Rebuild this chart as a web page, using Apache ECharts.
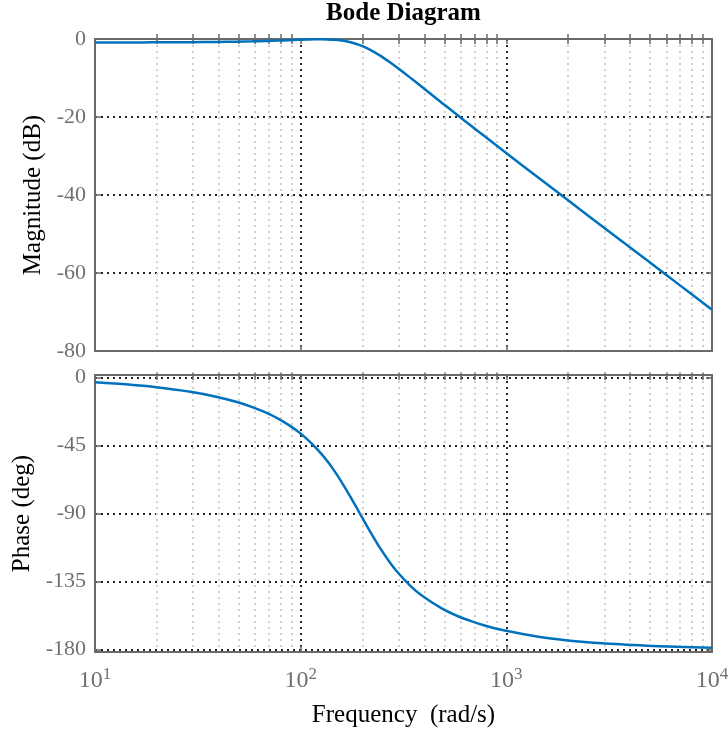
<!DOCTYPE html>
<html>
<head>
<meta charset="utf-8">
<script src="https://cdn.jsdelivr.net/npm/echarts@6/dist/echarts.min.js"></script>
<style>
  html, body { margin: 0; padding: 0; background: #ffffff; }
  #chart { width: 728px; height: 732px; }
</style>
</head>
<body>
<div id="chart"></div>
<script>
// Frequency samples (rad/s) and the response
const freq = [10, 14.5, 19.4, 29.1, 38.8, 48.5, 58.2, 67.9, 77.6, 87.3, 97, 106.7, 116.4, 126.1, 135.8, 145.5, 155.2, 174.6, 194, 213.4, 242.5, 271.6, 291, 339.5, 388, 485, 582, 679, 776, 970, 1455, 1940, 2910, 4850, 6790, 10000];
const magnitudeDb = [-0.89, -0.88, -0.86, -0.82, -0.76, -0.69, -0.60, -0.50, -0.41, -0.31, -0.22, -0.14, -0.09, -0.07, -0.10, -0.18, -0.33, -0.82, -1.57, -2.53, -4.20, -5.96, -7.12, -9.84, -12.26, -16.32, -19.62, -22.39, -24.77, -28.72, -35.84, -40.86, -47.93, -56.81, -62.66, -69.4];
const phaseDeg = [-3.2, -4.66, -6.23, -9.41, -12.68, -16.07, -19.60, -23.30, -27.22, -31.36, -35.75, -40.42, -45.36, -50.55, -55.99, -61.63, -67.38, -78.94, -90.0, -100.0, -112.6, -122.4, -127.7, -137.5, -144.3, -152.8, -158.0, -161.4, -163.9, -167.3, -171.7, -173.8, -175.9, -177.5, -178.2, -178.8];

// Tick positions
const decadeTicks = [10, 100, 1000, 10000];
const minorTicks = [20, 30, 40, 50, 60, 70, 80, 90, 200, 300, 400, 500, 600, 700, 800, 900, 2000, 3000, 4000, 5000, 6000, 7000, 8000, 9000];
const allFreqTicks = decadeTicks.concat(minorTicks);
const magTicks = [-80, -60, -40, -20, 0];
const phaseTicks = [-180, -135, -90, -45, 0];

// Axis limits
const freqRange = [10, 10000];
const magRange = [-80, 0];
const phaseRange = [-181.65, 1.65];

const FONT = "'Liberation Serif', 'Times New Roman', serif";
const FRAME = '#6a6a6a';
const LABEL_GRAY = '#707070';
const LINE_BLUE = '#0072BD';

const pairs = (xs, ys) => xs.map((x, i) => [x, ys[i]]);

const majorGrid = { show: true, lineStyle: { color: '#262626', width: 2, type: [2, 4], cap: 'butt' } };
const minorGrid = { show: true, lineStyle: { color: '#cfcfcf', width: 2, type: [2, 4], cap: 'butt' } };
const frameLine = { show: true, onZero: false, lineStyle: { color: FRAME, width: 2 } };

function freqAxes(gridIndex, withLabels) {
  const base = { type: 'log', logBase: 10, gridIndex, min: freqRange[0], max: freqRange[1] };
  return [
    // minor decades: light dotted grid + short inner ticks
    Object.assign({}, base, {
      position: 'bottom',
      axisLine: { show: false },
      axisTick: { show: true, inside: true, length: 5, customValues: minorTicks, lineStyle: { color: FRAME, width: 1.5 } },
      axisLabel: { show: false },
      splitLine: minorGrid
    }),
    // decades: dark dotted grid, frame edge, labels
    Object.assign({}, base, {
      position: 'bottom',
      axisLine: frameLine,
      axisTick: { show: true, inside: true, length: 6, customValues: decadeTicks, lineStyle: { color: FRAME, width: 1.5 } },
      axisLabel: withLabels ? {
        show: true,
        customValues: decadeTicks,
        margin: 17,
        formatter: v => '{b|10}{e|' + Math.round(Math.log10(v)) + '}',
        rich: {
          b: { fontFamily: FONT, fontSize: 24, lineHeight: 24, color: LABEL_GRAY, verticalAlign: 'bottom' },
          e: { fontFamily: FONT, fontSize: 17, lineHeight: 17, color: LABEL_GRAY, verticalAlign: 'bottom', padding: [0, 0, 10, 0] }
        }
      } : { show: false },
      splitLine: majorGrid,
      name: withLabels ? 'Frequency  (rad/s)' : '',
      nameLocation: 'middle',
      nameGap: 51,
      nameTextStyle: { fontFamily: FONT, fontSize: 25, color: '#000' }
    }),
    // top edge of the frame
    Object.assign({}, base, {
      position: 'top',
      axisLine: frameLine,
      axisTick: { show: true, inside: true, length: 5, customValues: allFreqTicks, lineStyle: { color: FRAME, width: 1.5 } },
      axisLabel: { show: false },
      splitLine: { show: false }
    })
  ];
}

function valueAxes(gridIndex, range, ticks, name, nameGap) {
  return [
    {
      type: 'value', gridIndex, position: 'left', min: range[0], max: range[1],
      axisLine: frameLine,
      axisTick: { show: true, inside: true, length: 6, customValues: ticks, lineStyle: { color: FRAME, width: 1.5 } },
      axisLabel: { show: true, customValues: ticks, margin: 9, fontFamily: FONT, fontSize: 22, color: LABEL_GRAY },
      splitLine: majorGrid,
      name, nameLocation: 'middle', nameGap,
      nameTextStyle: { fontFamily: FONT, fontSize: 25, color: '#000' }
    },
    {
      type: 'value', gridIndex, position: 'right', min: range[0], max: range[1],
      axisLine: frameLine,
      axisTick: { show: true, inside: true, length: 6, customValues: ticks, lineStyle: { color: FRAME, width: 1.5 } },
      axisLabel: { show: false },
      splitLine: { show: false }
    }
  ];
}

const chart = echarts.init(document.getElementById('chart'), null, { renderer: 'canvas' });

chart.setOption({
  animation: false,
  backgroundColor: '#ffffff',
  graphic: [{
    type: 'text', x: 403.5, y: 14,
    style: { text: 'Bode Diagram', fontFamily: FONT, fontSize: 25, fontWeight: 'bold', fill: '#000', textAlign: 'center', textVerticalAlign: 'middle' }
  }],
  grid: [
    { left: 95, top: 39, width: 617, height: 312, containLabel: false, outerBoundsMode: 'none' },
    { left: 95, top: 375, width: 617, height: 277, containLabel: false, outerBoundsMode: 'none' }
  ],
  xAxis: freqAxes(0, false).concat(freqAxes(1, true)),
  yAxis: valueAxes(0, magRange, magTicks, 'Magnitude (dB)', 48)
    .concat(valueAxes(1, phaseRange, phaseTicks, 'Phase (deg)', 59)),
  series: [
    {
      type: 'line', xAxisIndex: 1, yAxisIndex: 0,
      data: pairs(freq, magnitudeDb),
      showSymbol: false, smooth: 0.3,
      lineStyle: { color: LINE_BLUE, width: 2.5 }
    },
    {
      type: 'line', xAxisIndex: 4, yAxisIndex: 2,
      data: pairs(freq, phaseDeg),
      showSymbol: false, smooth: 0.3,
      lineStyle: { color: LINE_BLUE, width: 2.5 }
    }
  ]
});
</script>
</body>
</html>
